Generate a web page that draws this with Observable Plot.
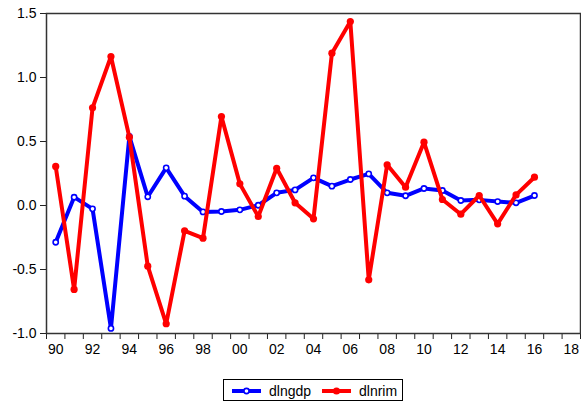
<!DOCTYPE html>
<html>
<head>
<meta charset="utf-8">
<script src="https://cdn.jsdelivr.net/npm/d3@7"></script>
<script src="https://cdn.jsdelivr.net/npm/@observablehq/plot@0.6"></script>
<style>
  body { margin: 0; background: #fff; font-family: "Liberation Sans", Arial, sans-serif; }
  #wrap { position: relative; width: 581px; height: 406px; }
  #legend { position: absolute; left: 223px; top: 379px; width: 180px; height: 22px; border: 1px solid #000; box-sizing: border-box; }
  .item { position: absolute; top: 0; height: 22px; display: flex; align-items: center; font-size: 14px; color: #000; }
  .item svg { margin-right: 8px; }
</style>
</head>
<body>
<div id="wrap"></div>
<script>
const years = [1990,1991,1992,1993,1994,1995,1996,1997,1998,1999,2000,2001,2002,2003,2004,2005,2006,2007,2008,2009,2010,2011,2012,2013,2014,2015,2016];
const dlngdp = [-0.287,0.065,-0.026,-0.96,0.54,0.068,0.294,0.073,-0.05,-0.047,-0.034,0.002,0.099,0.122,0.216,0.151,0.203,0.247,0.099,0.076,0.133,0.117,0.039,0.044,0.031,0.021,0.078];
const dlnrim = [0.305,-0.656,0.763,1.164,0.534,-0.474,-0.924,-0.198,-0.255,0.695,0.169,-0.086,0.291,0.021,-0.104,1.19,1.437,-0.581,0.318,0.143,0.495,0.047,-0.068,0.078,-0.143,0.083,0.221];
const yTicks = [-1, -0.5, 0, 0.5, 1, 1.5];
const xLabelYears = [1990,1992,1994,1996,1998,2000,2002,2004,2006,2008,2010,2012,2014,2016,2018];
const seriesNames = ["dlngdp", "dlnrim"];
const seriesColors = ["#0000ff", "#ff0000"];

const data = years.map((y, i) => ({year: y, dlngdp: dlngdp[i], dlnrim: dlnrim[i]}));
const boundaries = d3.range(1989.5, 2019, 1);

const chart = Plot.plot({
  width: 581,
  height: 365,
  marginTop: 13,
  marginBottom: 32,
  marginLeft: 46,
  marginRight: 1,
  style: {fontFamily: "'Liberation Sans', Arial, sans-serif", fontSize: "14px", color: "#000", background: "#fff"},
  x: {domain: [1989.5, 2018.5]},
  y: {domain: [-1, 1.5]},
  marks: [
    Plot.axisY({ticks: yTicks, tickFormat: d => d.toFixed(1), tickSize: 6, tickPadding: 4, label: null, fontSize: 14, stroke: "#222"}),
    Plot.axisX({ticks: boundaries, tickFormat: () => "", tickSize: 6, label: null, stroke: "#222"}),
    Plot.axisX({ticks: xLabelYears, tickFormat: d => String(d % 100).padStart(2, "0"), tickSize: 0, tickPadding: 11, label: null, fontSize: 14}),
    Plot.frame({stroke: "#333", strokeWidth: 1.5}),
    Plot.line(data, {x: "year", y: "dlngdp", stroke: seriesColors[0], strokeWidth: 4}),
    Plot.dot(data, {x: "year", y: "dlngdp", r: 2.6, fill: "#fff", stroke: seriesColors[0], strokeWidth: 1.6}),
    Plot.line(data, {x: "year", y: "dlnrim", stroke: seriesColors[1], strokeWidth: 4}),
    Plot.dot(data, {x: "year", y: "dlnrim", r: 3.6, fill: seriesColors[1], stroke: "none"})
  ]
});
const wrap = document.getElementById("wrap");
wrap.appendChild(chart);

const legend = document.createElement("div");
legend.id = "legend";
const lefts = [8, 98];
seriesNames.forEach((name, i) => {
  const item = document.createElement("div");
  item.className = "item";
  item.style.left = lefts[i] + "px";
  const c = seriesColors[i];
  const marker = i === 0
    ? `<circle cx="14.5" cy="5" r="2.6" fill="#fff" stroke="${c}" stroke-width="1.6"/>`
    : `<circle cx="14.5" cy="5" r="3.6" fill="${c}"/>`;
  item.innerHTML = `<svg width="29" height="10"><line x1="0" y1="5" x2="29" y2="5" stroke="${c}" stroke-width="4"/>${marker}</svg><span>${name}</span>`;
  legend.appendChild(item);
});
wrap.appendChild(legend);
</script>
</body>
</html>
